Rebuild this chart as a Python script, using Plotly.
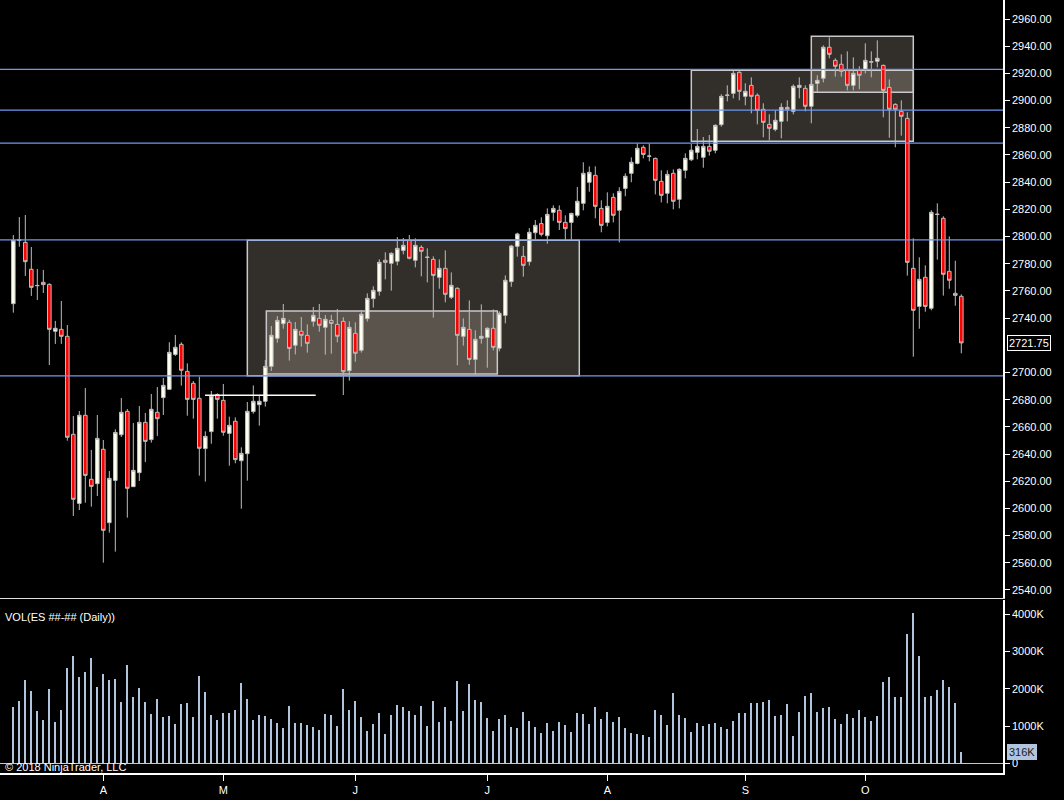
import plotly.graph_objects as go

# daily ES bars (bar index 0 = first bar on the left)
opens = [2750.6, 2797.2, 2795.7, 2775.9, 2763.8, 2766.3, 2764.8, 2730.3, 2731.7, 2726.6,
         2654.5, 2603.7, 2668.5, 2621.4, 2618.2, 2643.5, 2589.5, 2620.6, 2654.2, 2671.4,
         2616.0, 2626.3, 2663.3, 2650.6, 2670.7, 2681.5, 2687.6, 2713.3, 2720.7, 2700.8,
         2692.0, 2681.0, 2644.0, 2656.5, 2683.7, 2679.5, 2655.2, 2664.1, 2635.1, 2640.3,
         2671.2, 2676.3, 2678.8, 2704.5, 2725.1, 2735.9, 2736.9, 2720.0, 2730.3, 2727.3,
         2737.6, 2739.8, 2733.2, 2738.3, 2735.4, 2737.6, 2701.3, 2728.8, 2716.3, 2739.6,
         2754.3, 2759.7, 2782.5, 2780.3, 2781.8, 2789.8, 2797.2, 2782.5, 2792.0, 2784.6,
         2783.2, 2770.0, 2776.6, 2755.3, 2761.9, 2726.6, 2731.7, 2709.6, 2725.1, 2725.8,
         2732.5, 2717.8, 2742.0, 2766.8, 2792.8, 2785.4, 2781.5, 2802.8, 2809.5, 2800.6,
         2817.8, 2819.3, 2810.4, 2810.4, 2815.6, 2824.4, 2839.9, 2845.0, 2820.7, 2810.4,
         2828.8, 2819.3, 2835.4, 2846.5, 2853.8, 2865.6, 2859.0, 2857.5, 2840.6, 2831.8,
         2846.5, 2827.4, 2848.7, 2856.5, 2861.9, 2858.3, 2866.3, 2863.4, 2882.3, 2903.8,
         2905.3, 2920.8, 2903.1, 2911.2, 2903.9, 2893.6, 2882.5, 2878.8, 2884.7, 2895.0,
         2892.1, 2909.7, 2909.0, 2895.8, 2912.7, 2916.4, 2939.2, 2929.6, 2926.7, 2922.2,
         2911.2, 2922.2, 2922.2, 2928.3, 2928.9, 2925.9, 2909.7, 2897.2, 2892.1, 2886.9,
         2776.6, 2748.6, 2770.0, 2747.2, 2816.2, 2813.4, 2774.4, 2758.2, 2756.0]
highs = [2801.1, 2814.3, 2815.8, 2792.3, 2776.1, 2775.4, 2765.5, 2737.9, 2752.6, 2734.9,
         2668.0, 2671.7, 2688.6, 2643.0, 2668.7, 2650.3, 2627.5, 2658.2, 2681.2, 2673.1,
         2662.8, 2675.3, 2670.2, 2684.2, 2689.3, 2695.9, 2722.2, 2727.6, 2722.2, 2706.7,
         2693.7, 2696.9, 2656.7, 2686.4, 2684.7, 2691.5, 2667.5, 2667.0, 2644.9, 2678.3,
         2690.5, 2682.9, 2709.2, 2734.2, 2741.5, 2750.4, 2738.8, 2737.1, 2740.8, 2735.4,
         2748.2, 2750.4, 2742.3, 2742.3, 2746.7, 2740.6, 2737.6, 2736.9, 2746.0, 2758.2,
         2763.4, 2783.2, 2788.4, 2788.4, 2799.6, 2798.9, 2801.1, 2798.7, 2793.5, 2791.3,
         2785.4, 2783.2, 2789.8, 2773.6, 2762.6, 2739.8, 2753.0, 2731.0, 2750.1, 2733.2,
         2746.4, 2745.0, 2771.4, 2793.8, 2802.8, 2793.0, 2806.3, 2812.1, 2814.1, 2820.7,
         2822.9, 2822.9, 2815.6, 2817.5, 2836.4, 2854.6, 2851.6, 2851.6, 2826.6, 2832.5,
         2831.8, 2836.2, 2846.5, 2858.2, 2868.5, 2867.1, 2868.5, 2858.0, 2848.7, 2848.7,
         2849.4, 2850.2, 2861.2, 2868.1, 2879.1, 2873.2, 2874.7, 2882.5, 2904.6, 2911.2,
         2922.2, 2921.5, 2912.7, 2917.1, 2905.3, 2898.0, 2889.9, 2892.8, 2898.0, 2900.2,
         2911.9, 2917.1, 2911.2, 2912.7, 2918.6, 2940.6, 2946.5, 2931.1, 2934.0, 2936.2,
         2931.8, 2925.2, 2942.1, 2936.2, 2944.3, 2926.5, 2915.6, 2898.0, 2900.2, 2891.4,
         2798.7, 2784.7, 2778.8, 2819.3, 2824.4, 2814.9, 2800.1, 2782.2, 2757.5]
lows = [2744.0, 2792.5, 2771.0, 2756.3, 2753.3, 2758.5, 2705.5, 2721.0, 2721.0, 2649.8,
        2594.4, 2598.8, 2604.2, 2601.3, 2609.1, 2560.1, 2582.2, 2568.2, 2652.5, 2593.2,
        2616.0, 2620.2, 2634.1, 2648.4, 2653.3, 2668.7, 2687.6, 2712.1, 2690.3, 2668.2,
        2666.0, 2624.1, 2619.7, 2647.6, 2666.0, 2653.5, 2631.4, 2633.2, 2599.8, 2620.4,
        2669.7, 2660.9, 2674.9, 2701.1, 2721.9, 2732.2, 2708.7, 2713.3, 2719.0, 2714.6,
        2733.7, 2730.0, 2713.1, 2713.8, 2722.2, 2683.4, 2694.0, 2707.9, 2714.6, 2737.4,
        2747.7, 2756.5, 2768.5, 2760.2, 2778.8, 2786.9, 2783.2, 2777.3, 2770.7, 2766.3,
        2740.3, 2761.6, 2751.6, 2754.0, 2705.3, 2719.7, 2705.7, 2697.6, 2721.2, 2703.5,
        2716.3, 2715.5, 2736.1, 2763.0, 2785.2, 2770.5, 2778.6, 2797.4, 2800.1, 2794.7,
        2811.6, 2804.8, 2797.2, 2797.2, 2814.1, 2819.3, 2833.0, 2813.4, 2803.1, 2807.5,
        2810.4, 2795.7, 2829.6, 2839.9, 2853.1, 2857.5, 2855.3, 2831.0, 2825.1, 2824.4,
        2820.0, 2820.7, 2842.8, 2855.5, 2856.8, 2850.6, 2859.5, 2861.2, 2880.8, 2899.4,
        2901.6, 2900.2, 2896.5, 2890.6, 2882.5, 2873.0, 2870.8, 2877.4, 2872.2, 2884.7,
        2889.9, 2901.6, 2892.1, 2883.3, 2906.1, 2913.4, 2931.1, 2917.6, 2917.6, 2907.5,
        2907.5, 2908.3, 2920.0, 2917.1, 2924.4, 2887.7, 2872.7, 2865.6, 2874.2, 2771.2,
        2711.6, 2732.2, 2744.7, 2745.7, 2783.0, 2756.5, 2761.6, 2749.1, 2714.1]
closes = [2797.2, 2797.7, 2781.5, 2762.6, 2764.0, 2764.6, 2731.7, 2732.5, 2726.6, 2652.3,
          2606.7, 2668.5, 2624.3, 2616.2, 2651.5, 2583.9, 2622.1, 2655.9, 2670.7, 2614.8,
          2628.0, 2663.3, 2649.3, 2672.9, 2666.0, 2690.5, 2714.8, 2718.5, 2701.6, 2680.2,
          2680.2, 2644.2, 2653.0, 2682.9, 2680.2, 2656.0, 2661.1, 2635.9, 2640.5, 2671.4,
          2678.8, 2678.8, 2704.5, 2727.3, 2738.3, 2739.8, 2717.7, 2731.7, 2727.3, 2721.4,
          2742.0, 2734.7, 2739.1, 2736.1, 2726.6, 2700.6, 2733.2, 2714.1, 2742.8, 2754.5,
          2760.4, 2781.0, 2781.0, 2787.6, 2791.3, 2793.5, 2784.0, 2793.5, 2789.1, 2784.8,
          2771.4, 2776.6, 2757.5, 2764.1, 2727.3, 2733.2, 2709.6, 2724.4, 2726.6, 2732.5,
          2718.5, 2743.5, 2767.8, 2793.0, 2801.9, 2778.8, 2803.1, 2808.2, 2801.6, 2816.3,
          2820.7, 2810.4, 2805.8, 2817.0, 2825.9, 2846.5, 2847.2, 2822.2, 2808.2, 2822.2,
          2815.6, 2833.2, 2844.3, 2854.6, 2864.9, 2860.4, 2859.2, 2841.3, 2830.3, 2845.7,
          2825.9, 2849.4, 2857.5, 2863.5, 2866.3, 2866.3, 2862.7, 2881.8, 2903.1, 2904.0,
          2920.0, 2906.8, 2906.8, 2903.1, 2892.8, 2884.0, 2879.6, 2885.5, 2895.0, 2893.6,
          2910.5, 2911.2, 2895.8, 2911.9, 2914.9, 2939.2, 2934.0, 2925.2, 2921.5, 2911.2,
          2920.0, 2918.6, 2929.6, 2928.5, 2931.1, 2907.5, 2893.6, 2893.6, 2888.4, 2781.0,
          2745.7, 2768.5, 2748.6, 2817.8, 2816.4, 2772.2, 2767.8, 2756.7, 2721.75]
# volume in thousands of contracts
volumes = [1512, 1673, 2237, 1942, 1405, 1163, 1995, 1110, 1432, 2559,
           2881, 2318, 2452, 2828, 2049, 2398, 2237, 2264, 1646, 2640,
           1781, 2022, 1646, 1324, 1727, 1244, 1271, 1056, 1593, 1620,
           1244, 2344, 1915, 1297, 1163, 1351, 1351, 1432, 2156, 1727,
           1163, 1297, 1271, 1190, 1083, 948, 1539, 1083, 1083, 1029,
           975, 895, 1324, 1297, 1002, 1995, 1432, 1673, 1244, 868,
           1056, 1351, 787, 1297, 1566, 1512, 1405, 1297, 1539, 1002,
           1673, 1110, 1512, 1136, 2210, 1405, 2130, 1700, 1646, 1217,
           868, 1190, 1297, 975, 948, 1378, 1136, 975, 814, 1083,
           868, 1110, 1029, 841, 1351, 1324, 1056, 1512, 1190, 1378,
           1110, 1244, 948, 814, 787, 761, 707, 1432, 1297, 1029,
           1888, 1297, 1217, 841, 1083, 1002, 1056, 1083, 975, 922,
           1136, 1351, 1351, 1620, 1620, 1646, 1700, 1271, 1297, 1593,
           734, 1378, 1807, 1888, 1378, 1485, 1512, 1190, 1056, 1324,
           1217, 1432, 1244, 1136, 1271, 2183, 2318, 1781, 1781, 3472,
           4035, 2881, 1781, 1807, 1969, 2237, 2049, 1620, 316]

month_ticks = [15, 35, 57, 79, 99, 122, 142]
month_labels = ["A", "M", "J", "J", "A", "S", "O"]
# 2720 is hidden behind the last-price marker in the original
price_ticks = [2540, 2560, 2580, 2600, 2620, 2640, 2660, 2680, 2700, 2740, 2760,
               2780, 2800, 2820, 2840, 2860, 2880, 2900, 2920, 2940, 2960]
vol_ticks = [0, 1000, 2000, 3000, 4000]
vol_labels = ["0", "1000K", "2000K", "3000K", "4000K"]

# drawing objects on the chart
h_levels = [2923.0, 2893.0, 2868.75, 2797.5, 2697.5]
boxes = [  # bar from, bar to, price low, price high
    (39.0, 94.33, 2697.5, 2797.2),
    (42.17, 80.67, 2698.9, 2745.2),
    (113.0, 150.0, 2870.0, 2922.3),
    (133.0, 150.0, 2906.1, 2947.3),
]
ray = (31.95, 50.4, 2683.2)

bars = list(range(len(closes)))
FONT = "Liberation Sans, Arial, sans-serif"

fig = go.Figure()

fig.add_trace(go.Candlestick(
    x=bars, open=opens, high=highs, low=lows, close=closes,
    increasing=dict(line=dict(color="#bdbdbd", width=1), fillcolor="#fffff0"),
    decreasing=dict(line=dict(color="#bdbdbd", width=1), fillcolor="#ff0000"),
    whiskerwidth=0, showlegend=False, xaxis="x", yaxis="y",
))

fig.add_trace(go.Bar(
    x=bars, y=volumes, width=0.34, marker=dict(color="#b0c4de", line=dict(width=0)),
    showlegend=False, xaxis="x2", yaxis="y2",
))

shapes = []
for x0, x1, y0, y1 in boxes:
    shapes.append(dict(type="rect", xref="x", yref="y", x0=x0, x1=x1, y0=y0, y1=y1,
                       fillcolor="rgba(250,235,215,0.2)",
                       line=dict(color="#c8c8cc", width=1.5), layer="below"))
for lv in h_levels:
    shapes.append(dict(type="line", xref="paper", yref="y", x0=0, x1=1003 / 1064,
                       y0=lv, y1=lv, line=dict(color="#6f97f2", width=1.2)))
shapes.append(dict(type="line", xref="x", yref="y", x0=ray[0], x1=ray[1],
                   y0=ray[2], y1=ray[2], line=dict(color="#fffff0", width=1.5)))

xr = [-2.22, 164.95]
axis_font = dict(family=FONT, size=11, color="#ffffff")

fig.update_layout(
    width=1064, height=800,
    margin=dict(l=0, r=0, t=0, b=0),
    paper_bgcolor="#000000", plot_bgcolor="#000000",
    boxgap=0.15, bargap=0,
    shapes=shapes,
    xaxis=dict(domain=[0, 1003 / 1064], range=xr, anchor="y", showgrid=False,
               zeroline=False, showticklabels=False, ticks="",
               showline=True, linecolor="#e0e0e0", linewidth=1,
               rangeslider=dict(visible=False)),
    yaxis=dict(domain=[1 - 598 / 800, 1], range=[2534.1, 2973.98], anchor="x",
               side="right", showgrid=False, zeroline=False,
               tickvals=price_ticks, tickformat=".2f", ticks="outside", ticklen=5,
               tickcolor="#ffffff", tickfont=axis_font,
               showline=True, linecolor="#ffffff", linewidth=1.5),
    xaxis2=dict(domain=[0, 1003 / 1064], range=xr, anchor="y2", matches="x",
                showgrid=False, zeroline=False,
                tickvals=month_ticks, ticktext=month_labels,
                ticks="outside", ticklen=6, tickcolor="#ffffff", tickfont=axis_font,
                showline=True, linecolor="#ffffff", linewidth=1.5),
    yaxis2=dict(domain=[1 - 773 / 800, 1 - 600 / 800], range=[-260, 4384], anchor="x2",
                side="right", showgrid=False, zeroline=True, zerolinecolor="#c8c8c8",
                zerolinewidth=1,
                tickvals=vol_ticks, ticktext=vol_labels,
                ticks="outside", ticklen=5, tickcolor="#ffffff", tickfont=axis_font,
                showline=True, linecolor="#ffffff", linewidth=1.5),
    annotations=[
        dict(text="VOL(ES ##-## (Daily))", xref="paper", yref="paper",
             x=3 / 1064, y=1 - 617 / 800, xanchor="left", yanchor="middle",
             showarrow=False, font=dict(family=FONT, size=11, color="#ffffff")),
        dict(text="© 2018 NinjaTrader, LLC", xref="paper", yref="paper",
             x=3 / 1064, y=1 - 767 / 800, xanchor="left", yanchor="middle",
             showarrow=False, font=dict(family=FONT, size=11, color="#ffffff")),
        dict(text=f"{closes[-1]:.2f}", xref="paper", yref="y",
             x=1007 / 1064, y=closes[-1], xanchor="left", yanchor="middle",
             showarrow=False, bgcolor="#000000", bordercolor="#ffffff", borderwidth=1,
             borderpad=1, font=dict(family=FONT, size=11, color="#ffffff")),
        dict(text=f"{volumes[-1]}K", xref="paper", yref="y2",
             x=1007 / 1064, y=volumes[-1], xanchor="left", yanchor="middle",
             showarrow=False, bgcolor="#b0c4de", bordercolor="#b0c4de", borderwidth=1,
             borderpad=1, font=dict(family=FONT, size=11, color="#1a1a1a")),
    ],
)

# page body has an 8px default margin; drop it so the chart sits at the corner
fig.write_html("out.html", config={"displayModeBar": False},
               post_script="document.body.style.margin='0';")
